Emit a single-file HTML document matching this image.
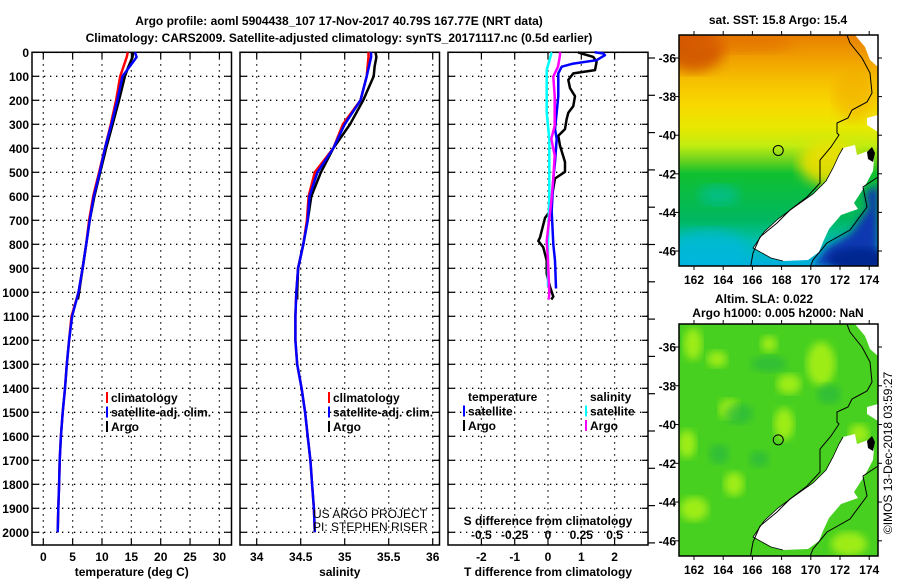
<!DOCTYPE html>
<html><head><meta charset="utf-8">
<style>
html,body{margin:0;padding:0;background:#fff;}
svg{display:block;font-family:"Liberation Sans",sans-serif;}
.b{font-weight:bold;font-size:12px;}
.n{font-weight:normal;font-size:12px;}
</style></head>
<body>
<svg id="chart" width="900" height="580" viewBox="0 0 900 580" xmlns="http://www.w3.org/2000/svg">
<defs>
<linearGradient id="sstGrad" x1="0" y1="0" x2="0" y2="1">
<stop offset="0" stop-color="#e88000"/>
<stop offset="0.1" stop-color="#f0a000"/>
<stop offset="0.2" stop-color="#f6c000"/>
<stop offset="0.3" stop-color="#f8d800"/>
<stop offset="0.4" stop-color="#e8e800"/>
<stop offset="0.48" stop-color="#c0ec10"/>
<stop offset="0.55" stop-color="#60d020"/>
<stop offset="0.6" stop-color="#10c030"/>
<stop offset="0.8" stop-color="#00b860"/>
<stop offset="0.9" stop-color="#00c0b0"/>
<stop offset="1" stop-color="#00b0e0"/>
</linearGradient>
<filter id="blur6"><feGaussianBlur stdDeviation="6"/></filter>
<filter id="blur4"><feGaussianBlur stdDeviation="4"/></filter>
<clipPath id="clipTop"><rect x="0" y="0" width="199" height="231"/></clipPath>
<clipPath id="clipBot"><rect x="0" y="0" width="199" height="232"/></clipPath>
</defs>
<g id="main"></g>
</svg>
<script>
// ---------- data ----------
const depthTicks = [0,100,200,300,400,500,600,700,800,900,1000,1100,1200,1300,1400,1500,1600,1700,1800,1900,2000];
const tempTicks = [0,5,10,15,20,25,30];
const salTicks = [34,34.5,35,35.5,36];
const salTickLabels = ["34","34.5","35","35.5","36"];
const tdiffTicks = [-2,-1,0,1,2];
const sdiffTicks = [-0.5,-0.25,0,0.25,0.5];
const sdiffTickLabels = ["-0.5","-0.25","0","0.25","0.5"];

const climDepth = [0,20,100,200,300,400,500,600,700,800,900,1000,1100,1200,1300,1400,1500,1600,1700,1800,1900,2000];
const climTemp  = [14.4,14.2,13.1,12.4,11.5,10.5,9.5,8.5,7.8,7.3,6.7,6.0,4.8,4.4,4.0,3.7,3.3,3.0,2.8,2.7,2.55,2.45];
const satTemp   = [15.6,15.9,13.5,12.6,11.6,10.5,9.6,8.6,7.9,7.3,6.7,6.0,4.9,4.4,4.0,3.7,3.3,3.0,2.8,2.7,2.55,2.45];
const climSal   = [35.27,35.27,35.25,35.18,34.98,34.87,34.66,34.59,34.57,34.53,34.47,34.45,34.44,34.44,34.46,34.51,34.55,34.58,34.61,34.63,34.65,34.66];
const satSal    = [35.30,35.30,35.25,35.18,35.00,34.87,34.69,34.60,34.58,34.53,34.47,34.45,34.44,34.44,34.46,34.51,34.55,34.58,34.61,34.63,34.65,34.66];

const argoDepth = [0,20,60,100,200,300,400,500,600,700,800,900,1000,1030];
const argoTemp  = [15.3,15.2,14.5,13.9,12.9,11.8,10.7,9.7,8.7,7.9,7.3,6.7,6.1,5.9];
const argoSal   = [35.35,35.36,35.34,35.33,35.21,35.06,34.87,34.73,34.62,34.58,34.53,34.47,34.46,34.46];

const dTDepth = [0,5,19,40,74,88,115,149,183,224,252,279,320,348,389,457,498,526,567,608,662,690,772,786,813,868,923,977,1018,1030];
const dTArgo  = [0.9,1.01,1.36,1.46,1.41,0.76,0.61,0.66,0.81,0.76,0.61,0.56,0.51,0.31,0.36,0.51,0.51,0.21,0.16,0.11,0.06,-0.09,-0.24,-0.29,-0.14,-0.04,-0.04,0.06,0.16,0.1];
const dTSatDepth = [0,5,12,33,47,60,88,183,320,361,457,526,662,799,868,984];
const dTSat      = [1.4,1.66,1.71,1.46,0.76,0.41,0.31,0.31,0.21,0.26,0.21,0.16,0.11,0.16,0.21,0.24];
const dSArgoDepth = [0,12,60,101,183,306,361,430,526,621,786,868,1005,1030];
const dSArgo      = [0.09,0.09,0.075,0.04,0.05,0.05,0.025,0.05,0.04,0.025,-0.01,0.0,0.01,0.005];
const dSSatDepth = [0,5,74,252,361,594,799,977];
const dSSat      = [0.02,0.025,-0.01,-0.01,0.01,0.01,0.0,0.0];

const lonTicks = [162,164,166,168,170,172,174];
const latTicks = [-36,-38,-40,-42,-44,-46];
const argoLon = 167.77, argoLat = -40.79;

// ---------- helpers ----------
const NS = "http://www.w3.org/2000/svg";
const root = document.getElementById("main");
function mk(tag, attrs, parent){ const e=document.createElementNS(NS,tag); for(const k in attrs) e.setAttribute(k,attrs[k]); (parent||root).appendChild(e); return e; }
function txt(s, x, y, anchor, cls, parent){ const t=mk("text",{x:x,y:y,"text-anchor":anchor||"middle","class":cls||"b"},parent); t.textContent=s; return t; }

const TOP=52.3, BOT=545, PXM=0.24;
const yD = d => TOP + d*PXM;
const xT = v => 43.3 + v*5.87;
const xS = v => 256.7 + (v-34)*88;
const xdT = v => 548 + v*33.3;
const xdS = v => 548 + v*133.2;

function stepPath(depths, vals, xf){
  let d="";
  for(let i=0;i<depths.length;i++){
    const x=xf(vals[i]).toFixed(1), y=yD(depths[i]).toFixed(1);
    d += (i===0?"M":"L")+x+","+y+" ";
  }
  return d;
}

// ---------- title ----------
const tg = mk("g",{});


const t1 = txt("Argo profile: aoml 5904438_107 17-Nov-2017 40.79S 167.77E (NRT data)", 339, 25, "middle", "b", tg); t1.setAttribute("font-size","14");
const t2 = txt("Climatology: CARS2009. Satellite-adjusted climatology: synTS_20171117.nc (0.5d earlier)", 339, 42, "middle", "b", tg); t2.setAttribute("font-size","14");

// ---------- panels ----------
function panel(name, x0, x1, xticks, xlabels, xf, xtitle){
  const g = mk("g",{});
  
  
  depthTicks.forEach(d=>{
    const l=mk("line",{x1:x0,x2:x1,y1:yD(d),y2:yD(d),stroke:"#000","stroke-width":1.3,"stroke-dasharray":"1.3,4.7"},g);
    
    
    mk("line",{x1:x0,x2:x0+6,y1:yD(d),y2:yD(d),stroke:"#000","stroke-width":1.2},g);
    mk("line",{x1:x1-6,x2:x1,y1:yD(d),y2:yD(d),stroke:"#000","stroke-width":1.2},g);
  });
  if(xticks){
    xticks.forEach((v,i)=>{
      const x=xf(v);
      const l=mk("line",{x1:x,x2:x,y1:TOP,y2:BOT,stroke:"#000","stroke-width":1.3,"stroke-dasharray":"1.3,4.7"},g);
      
      
      mk("line",{x1:x,x2:x,y1:BOT-6,y2:BOT,stroke:"#000","stroke-width":1.2},g);
      mk("line",{x1:x,x2:x,y1:TOP,y2:TOP+6,stroke:"#000","stroke-width":1.2},g);
      const lab=txt(xlabels[i], x, 561, "middle", "b", g);
      
      
    });
  }
  const fr=mk("rect",{x:x0,y:TOP,width:x1-x0,height:BOT-TOP,fill:"none",stroke:"#000","stroke-width":1.5},g);
  
  
  if(xtitle){
    const xt=txt(xtitle,(x0+x1)/2,576,"middle","b",g);
    
    
  }
  return g;
}

const p1 = panel("temperature-panel", 32, 231.5, tempTicks, tempTicks.map(String), xT, "temperature (deg C)");
const p2 = panel("salinity-panel", 240, 439.5, salTicks, salTickLabels, xS, "salinity");
const p3 = panel("difference-panel", 448, 648, tdiffTicks, tdiffTicks.map(String), xdT, "T difference from climatology");

depthTicks.forEach(d=>{
  const l=txt(String(d), 29, yD(d)+4.5, "end", "b");
  
  
});
for(let i=0;i<14;i++){
  mk("line",{x1:648,x2:655,y1:58+i*37.3,y2:58+i*37.3,stroke:"#000","stroke-width":1.2});
}

// ---------- series ----------
function series(name, g, depths, vals, xf, color, w){
  const p=mk("path",{d:stepPath(depths,vals,xf),fill:"none",stroke:color,"stroke-width":w||2.5,"stroke-linejoin":"round"},g);
  
  
  return p;
}
series("temp-argo-line", p1, argoDepth, argoTemp, xT, "#000");
series("temp-climatology-line", p1, climDepth, climTemp, xT, "#ff0000");
series("temp-satellite-line", p1, climDepth, satTemp, xT, "#0000ff");
series("sal-argo-line", p2, argoDepth, argoSal, xS, "#000");
series("sal-climatology-line", p2, climDepth, climSal, xS, "#ff0000");
series("sal-satellite-line", p2, climDepth, satSal, xS, "#0000ff");
series("dt-argo-line", p3, dTDepth, dTArgo, xdT, "#000");
series("ds-satellite-line", p3, dSSatDepth, dSSat, xdS, "#00ffff");
series("dt-satellite-line", p3, dTSatDepth, dTSat, xdT, "#0000ff");
series("ds-argo-line", p3, dSArgoDepth, dSArgo, xdS, "#ff00ff");

const sdl=txt("S difference from climatology",548,525,"middle","b",p3);


sdiffTicks.forEach((v,i)=>{
  const l=txt(sdiffTickLabels[i], xdS(v), 539, "middle", "b", p3);
  
  
});

// ---------- legends ----------
function legend(g, x, y, items){
  items.forEach((it,i)=>{
    const e=mk("g",{},g);
    
    
    if(it[1]) mk("rect",{x:x,y:y+i*14.5-10,width:2,height:11,fill:it[1]},e);
    txt(it[0], x+5, y+i*14.5, "start", "b", e);
  });
}
legend(p1, 106, 402, [["climatology","#ff0000"],["satellite-adj. clim.","#0000ff"],["Argo","#000"]]);
legend(p2, 328, 402, [["climatology","#ff0000"],["satellite-adj. clim.","#0000ff"],["Argo","#000"]]);
legend(p3, 463, 401, [["temperature",null],["satellite","#0000ff"],["Argo","#000"]]);
legend(p3, 585, 401, [["salinity",null],["satellite","#00ffff"],["Argo","#ff00ff"]]);
const cr1=txt("US ARGO PROJECT",313,518,"start","n",p2);


const cr2=txt("PI: STEPHEN RISER",313,531,"start","n",p2);



// ---------- maps ----------
const island = [[164,113],[176,110],[178,120],[189,116],[195,124],[194,136],[186,151],[175,168],[179,174],[162,180],[150,194],[144,207],[140,217],[129,225],[104,226],[92,223],[74,213],[85,197],[99,184],[114,173],[134,159],[147,146],[154,133],[160,120]];
const northIsland = [[176,0],[199,0],[199,32],[191,25],[186,12]];
const northBit = [[188,83],[199,80],[199,97],[188,90]];
const westCoast = [[166,-5],[171,8],[183,23],[191,38],[193,58],[188,67],[173,75],[169,83],[158,88],[158,98],[160,100],[152,112],[141,125],[141,148],[128,162],[111,175],[98,188],[81,202],[74,218],[71,235]];
const eastCoast = [[199,142],[184,152],[188,172],[171,195],[148,208],[134,225],[130,235]];
const blueZone = [[199,150],[186,158],[190,172],[172,198],[148,212],[134,231],[199,231]];

function mapPanel(name, ox, oy, h, kind){
  const g=mk("g",{transform:`translate(${ox},${oy})`});
  
  
  const inner=mk("g",{"clip-path": kind==="sst"?"url(#clipTop)":"url(#clipBot)"},g);
  const pts = a => a.map(p=>p.join(",")).join(" ");
  if(kind==="sst"){
    mk("rect",{x:0,y:0,width:199,height:h,fill:"url(#sstGrad)"},inner);
    mk("ellipse",{cx:15,cy:15,rx:30,ry:22,fill:"#c84000",filter:"url(#blur6)",opacity:0.7},inner);
    mk("ellipse",{cx:60,cy:8,rx:55,ry:10,fill:"#e06800",filter:"url(#blur6)",opacity:0.5},inner);
    mk("ellipse",{cx:150,cy:128,rx:30,ry:22,fill:"#f0e000",filter:"url(#blur6)",opacity:0.9},inner);
    mk("ellipse",{cx:175,cy:60,rx:20,ry:25,fill:"#f0a800",filter:"url(#blur6)",opacity:0.5},inner);
    mk("polygon",{points:pts(blueZone),fill:"#0838b0",filter:"url(#blur4)"},inner);
    mk("ellipse",{cx:180,cy:225,rx:30,ry:12,fill:"#002890",filter:"url(#blur4)"},inner);
    mk("ellipse",{cx:30,cy:215,rx:40,ry:20,fill:"#00b8e0",filter:"url(#blur6)",opacity:0.7},inner);
    mk("ellipse",{cx:40,cy:160,rx:20,ry:10,fill:"#00c0b0",filter:"url(#blur6)",opacity:0.6},inner);
  } else {
    mk("rect",{x:0,y:0,width:199,height:h,fill:"#48d020"},inner);
    [[14,20,9,16],[38,35,10,8],[142,40,14,22],[8,120,9,14],[55,160,10,12],[105,100,10,16],[15,185,14,12],[170,220,18,12],[110,60,12,10],[50,85,10,10],[130,180,8,8],[90,20,8,8],[180,110,10,10]].forEach(b=>{
      mk("ellipse",{cx:b[0],cy:b[1],rx:b[2],ry:b[3],fill:"#a8f018",filter:"url(#blur4)",opacity:0.9},inner);
    });
    [[60,90,14,10],[150,70,12,10],[90,40,18,8],[40,130,10,10],[80,135,10,8]].forEach(b=>{
      mk("ellipse",{cx:b[0],cy:b[1],rx:b[2],ry:b[3],fill:"#28b840",filter:"url(#blur4)",opacity:0.7},inner);
    });
  }
  mk("polygon",{points:pts(island),fill:"#fff"},inner);
  mk("polygon",{points:pts(northIsland),fill:"#fff"},inner);
  mk("polygon",{points:pts(northBit),fill:"#fff"},inner);
  mk("polyline",{points:pts(westCoast),fill:"none",stroke:"#000","stroke-width":1},inner);
  mk("polyline",{points:pts(eastCoast),fill:"none",stroke:"#000","stroke-width":1},inner);
  mk("polyline",{points:pts(island.slice(14).concat([island[0]])),fill:"none",stroke:"#000","stroke-width":0.8},inner);
  mk("polygon",{points:"188,117 193,112 196,118 194,127 189,124",fill:"#000"},inner);
  const xL = lon => 15 + (lon-162)*14.6;
  const yL = lat => 23 + (-36-lat)*19.3*(h/231);
  const mark=mk("circle",{cx:xL(argoLon),cy:yL(argoLat),r:5,fill:"none",stroke:"#000","stroke-width":1},g);
  
  
  mk("rect",{x:0,y:0,width:199,height:h,fill:"none",stroke:"#000","stroke-width":1.5},g);
  lonTicks.forEach(lon=>{
    mk("line",{x1:xL(lon),x2:xL(lon),y1:h,y2:h+4,stroke:"#000"},g);
    mk("line",{x1:xL(lon),x2:xL(lon),y1:0,y2:-4,stroke:"#000"},g);
    const l=txt(String(lon), xL(lon), h+18, "middle", "b", g);
    
    
  });
  latTicks.forEach(lat=>{
    mk("line",{x1:-4,x2:0,y1:yL(lat),y2:yL(lat),stroke:"#000"},g);
    mk("line",{x1:199,x2:203,y1:yL(lat),y2:yL(lat),stroke:"#000"},g);
    const l=txt(String(lat), -3, yL(lat)+4.5, "end", "b", g);
    
    
  });
  return g;
}
const m1 = mapPanel("sst-map", 679, 35, 231, "sst");
const m1t = txt("sat. SST: 15.8 Argo: 15.4", 778, 24, "middle", "b");


const m2 = mapPanel("sla-map", 679, 324, 232, "sla");
const m2a = txt("Altim. SLA: 0.022", 764, 303, "middle", "b");


const m2b = txt("Argo h1000: 0.005 h2000: NaN", 778, 317, "middle", "b");


const stamp = txt("©IMOS 13-Dec-2018 03:59:27", 0, 0, "middle", "n");
stamp.setAttribute("transform","translate(892,453) rotate(-90)");


</script>
</body></html>
